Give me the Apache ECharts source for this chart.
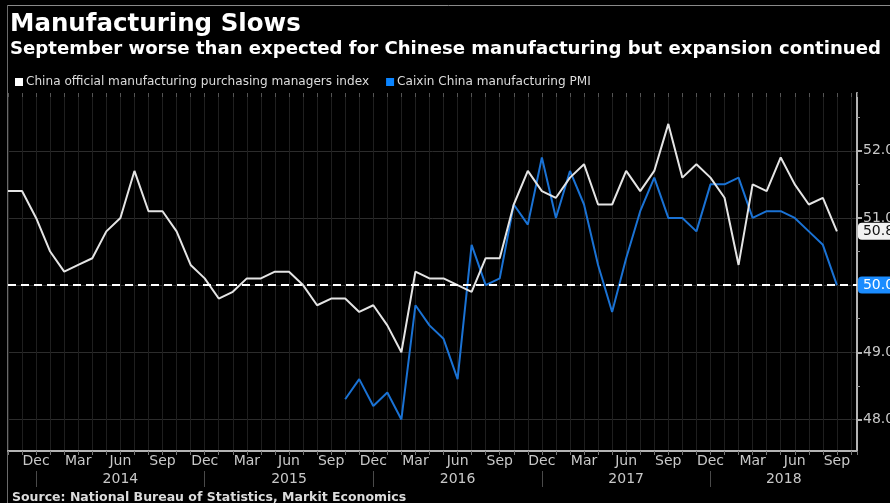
<!DOCTYPE html>
<html>
<head>
<meta charset="utf-8">
<script src="https://cdn.jsdelivr.net/npm/echarts@6/dist/echarts.min.js"></script>
<style>
html,body{margin:0;padding:0;background:#000;}
#chart{width:890px;height:503px;}
</style>
</head>
<body>
<div id="chart"></div>
<script>
// ---- data ----
const categories = [
  'Oct 2013','Nov 2013','Dec 2013',
  'Jan 2014','Feb 2014','Mar 2014','Apr 2014','May 2014','Jun 2014','Jul 2014','Aug 2014','Sep 2014','Oct 2014','Nov 2014','Dec 2014',
  'Jan 2015','Feb 2015','Mar 2015','Apr 2015','May 2015','Jun 2015','Jul 2015','Aug 2015','Sep 2015','Oct 2015','Nov 2015','Dec 2015',
  'Jan 2016','Feb 2016','Mar 2016','Apr 2016','May 2016','Jun 2016','Jul 2016','Aug 2016','Sep 2016','Oct 2016','Nov 2016','Dec 2016',
  'Jan 2017','Feb 2017','Mar 2017','Apr 2017','May 2017','Jun 2017','Jul 2017','Aug 2017','Sep 2017','Oct 2017','Nov 2017','Dec 2017',
  'Jan 2018','Feb 2018','Mar 2018','Apr 2018','May 2018','Jun 2018','Jul 2018','Aug 2018','Sep 2018'
];
const officialPMI = [
  51.4, 51.4, 51.0,
  50.5, 50.2, 50.3, 50.4, 50.8, 51.0, 51.7, 51.1, 51.1, 50.8, 50.3, 50.1,
  49.8, 49.9, 50.1, 50.1, 50.2, 50.2, 50.0, 49.7, 49.8, 49.8, 49.6, 49.7,
  49.4, 49.0, 50.2, 50.1, 50.1, 50.0, 49.9, 50.4, 50.4, 51.2, 51.7, 51.4,
  51.3, 51.6, 51.8, 51.2, 51.2, 51.7, 51.4, 51.7, 52.4, 51.6, 51.8, 51.6,
  51.3, 50.3, 51.5, 51.4, 51.9, 51.5, 51.2, 51.3, 50.8
];
const caixinStart = 'Oct 2015';
const caixinPMI = [
  48.3, 48.6, 48.2,
  48.4, 48.0, 49.7, 49.4, 49.2, 48.6, 50.6, 50.0, 50.1, 51.2, 50.9, 51.9,
  51.0, 51.7, 51.2, 50.3, 49.6, 50.4, 51.1, 51.6, 51.0, 51.0, 50.8, 51.5,
  51.5, 51.6, 51.0, 51.1, 51.1, 51.0, 50.8, 50.6, 50.0
];
const monthTickLabels = ['Dec', 'Mar', 'Jun', 'Sep'];
const yearLabels = ['2014', '2015', '2016', '2017', '2018'];
const yTickLabels = [48, 49, 50, 51, 52];
const yMinorTicks = [48.5, 49.5, 50.5, 51.5, 52.5];
const referenceLevel = 50;
const seriesNames = ['China official manufacturing purchasing managers index', 'Caixin China manufacturing PMI'];

// ---- derived ----
const X_MIN = 0, X_MAX = 60.43;
const Y_MIN = 47.53, Y_MAX = 52.86;
const officialData = officialPMI.map((v, i) => [i, v]);
const cStart = categories.indexOf(caixinStart);
const caixinData = caixinPMI.map((v, i) => [cStart + i, v]);
const monthLabelIdx = [];
categories.forEach((c, i) => { if (monthTickLabels.indexOf(c.split(' ')[0]) >= 0) monthLabelIdx.push(i); });
const yearSepIdx = [];
const yearCenters = [];
yearLabels.forEach(y => {
  const s = categories.indexOf('Dec ' + (Number(y) - 1));
  let e = categories.indexOf('Dec ' + y);
  if (e < 0) e = X_MAX;
  yearSepIdx.push(s);
  yearCenters.push((s + e) / 2);
});
const FONT = 'DejaVu Sans';
const GRID = {left: 8, right: 33, top: 93, bottom: 52};
const PLOT_W = 890 - GRID.left - GRID.right;

const chart = echarts.init(document.getElementById('chart'), null, {renderer: 'canvas'});
chart.setOption({
  backgroundColor: '#000',
  animation: false,
  title: {
    text: 'Manufacturing Slows',
    subtext: 'September worse than expected for Chinese manufacturing but expansion continued',
    left: 5, top: 7, itemGap: 3,
    textStyle: {color: '#fff', fontFamily: FONT, fontWeight: 'bold', fontSize: 24.5},
    subtextStyle: {color: '#fff', fontFamily: FONT, fontWeight: 'bold', fontSize: 18.1}
  },
  legend: {
    left: 10, top: 71, icon: 'rect', itemWidth: 8, itemHeight: 8, itemGap: 17,
    textStyle: {color: '#dcdcdc', fontFamily: FONT, fontSize: 12.1, padding: [0, 0, 0, -2]},
    data: seriesNames
  },
  grid: Object.assign({containLabel: false, outerBoundsMode: 'none'}, GRID),
  xAxis: [
    {
      type: 'value', min: X_MIN, max: X_MAX, interval: 1, position: 'bottom',
      axisLine: {show: true, onZero: false, lineStyle: {color: '#b4b4b4', width: 2}},
      axisTick: {show: true, length: 4, lineStyle: {color: '#777'}},
      axisLabel: {
        customValues: monthLabelIdx, color: '#c8c8c8', fontFamily: FONT, fontSize: 14, margin: 3,
        formatter: v => categories[Math.round(v)].split(' ')[0]
      },
      splitLine: {show: true, lineStyle: {color: '#1f1f1f', width: 1}}
    },
    {
      type: 'value', min: X_MIN, max: X_MAX, position: 'bottom', offset: 20,
      axisLine: {show: false, onZero: false},
      axisTick: {show: true, customValues: yearSepIdx, length: 16, lineStyle: {color: '#4a4a4a'}},
      axisLabel: {
        customValues: yearCenters, color: '#c8c8c8', fontFamily: FONT, fontSize: 14, margin: 1,
        formatter: v => categories[Math.round(v)].split(' ')[1]
      },
      splitLine: {show: false}
    },
    {
      type: 'value', min: X_MIN, max: X_MAX, interval: 1, position: 'top',
      axisLine: {show: false, onZero: false},
      axisTick: {show: true, inside: true, length: 4, lineStyle: {color: '#555'}},
      axisLabel: {show: false},
      splitLine: {show: false}
    }
  ],
  yAxis: [
    {
      type: 'value', min: Y_MIN, max: Y_MAX, position: 'right',
      axisLine: {show: true, onZero: false, lineStyle: {color: '#b4b4b4', width: 2}},
      axisTick: {show: true, customValues: yTickLabels, length: 5, lineStyle: {color: '#b4b4b4', width: 2}},
      axisLabel: {
        customValues: yTickLabels, color: '#c8c8c8', fontFamily: FONT, fontSize: 14, margin: 6,
        formatter: v => Number(v).toFixed(1)
      },
      splitLine: {show: true, lineStyle: {color: '#2c2c2c', width: 1}}
    },
    {
      // minor half-unit ticks, placed on the right-hand axis line
      type: 'value', min: Y_MIN, max: Y_MAX, position: 'left', offset: -PLOT_W,
      axisLine: {show: false, onZero: false},
      axisTick: {show: true, inside: true, customValues: yMinorTicks, length: 3, lineStyle: {color: '#999'}},
      axisLabel: {show: false},
      splitLine: {show: false}
    }
  ],
  series: [
    {
      name: seriesNames[0], type: 'line', yAxisIndex: 0,
      data: officialData, symbol: 'none', z: 3,
      lineStyle: {color: '#e4e4e4', width: 2},
      itemStyle: {color: '#ffffff'},
      endLabel: {
        show: true, distance: 21,
        formatter: p => p.value[1].toFixed(1),
        color: '#111', backgroundColor: '#f2f2f2', borderRadius: 4,
        fontFamily: FONT, fontSize: 14, padding: [2, 4, 1, 5]
      },
      markLine: {
        silent: true, symbol: 'none', label: {show: false},
        lineStyle: {color: '#ffffff', type: [8, 5], width: 2},
        data: [{yAxis: referenceLevel}]
      }
    },
    {
      name: seriesNames[1], type: 'line', yAxisIndex: 0,
      data: caixinData, symbol: 'none', z: 2,
      lineStyle: {color: '#1a72d4', width: 2},
      itemStyle: {color: '#0a84ff'},
      endLabel: {
        show: true, distance: 21,
        formatter: p => p.value[1].toFixed(1),
        color: '#fff', backgroundColor: '#1a8cff', borderRadius: 4,
        fontFamily: FONT, fontSize: 14, padding: [2, 4, 1, 5]
      }
    }
  ],
  graphic: [
    {type: 'line', shape: {x1: 7, y1: 5.5, x2: 890, y2: 5.5}, style: {stroke: '#8a8a8a', lineWidth: 1}, silent: true},
    {type: 'line', shape: {x1: 7.5, y1: 5, x2: 7.5, y2: 503}, style: {stroke: '#6a6a6a', lineWidth: 1}, silent: true},
    {
      type: 'text', left: 12, top: 491, silent: true,
      style: {text: 'Source: National Bureau of Statistics, Markit Economics', fill: '#dcdcdc',
              font: 'bold 12.5px "DejaVu Sans"'}
    }
  ]
});
</script>
</body>
</html>
